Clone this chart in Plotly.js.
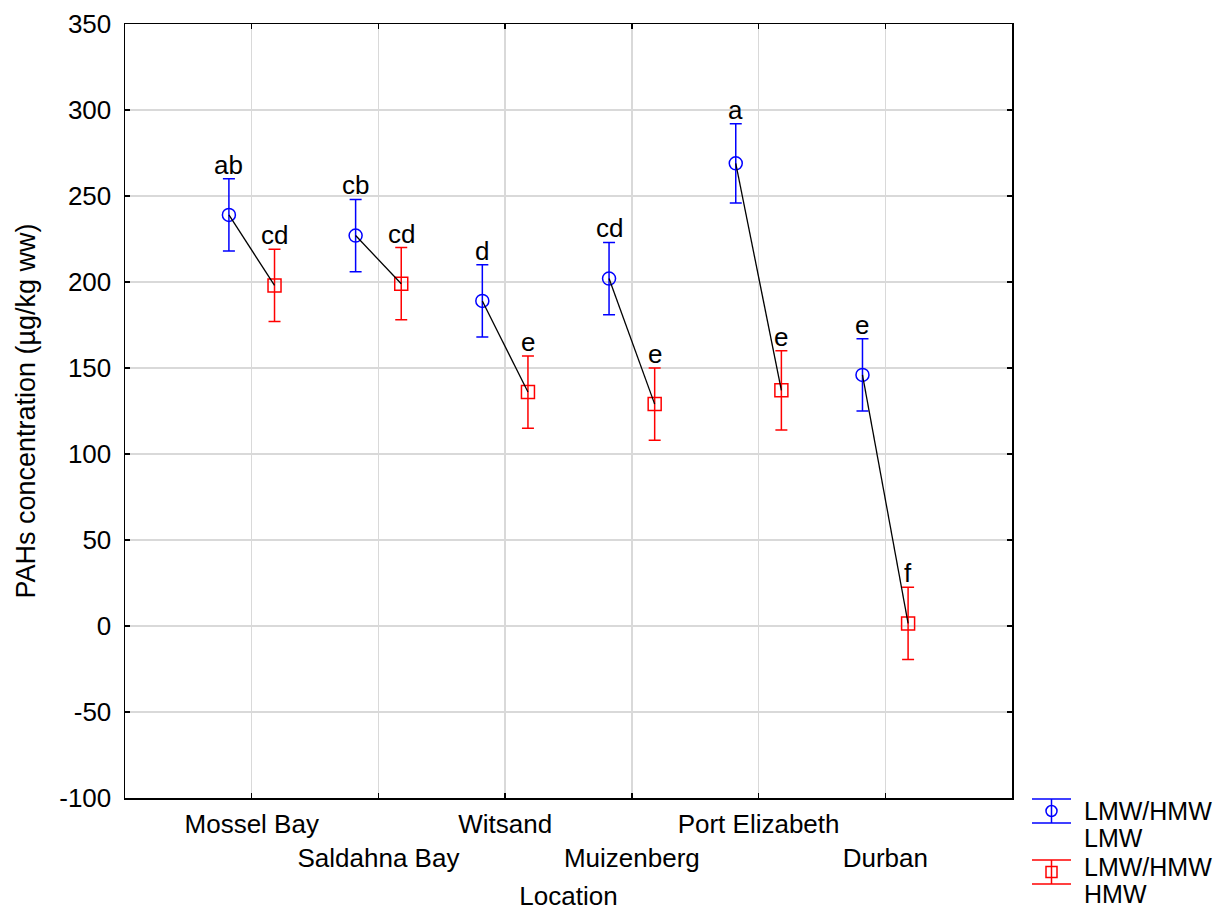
<!DOCTYPE html>
<html>
<head>
<meta charset="utf-8">
<script src="https://cdn.plot.ly/plotly-3.0.1.min.js"></script>
<style>html,body{margin:0;padding:0;background:#fff;}#chart{width:1221px;height:912px;}</style>
</head>
<body>
<div id="chart"></div>
<script>
const locations = ["Mossel Bay", "Saldahna Bay", "Witsand", "Muizenberg", "Port Elizabeth", "Durban"];
const lmwMean = [239, 227, 189, 202, 269, 146];
const lmwErr  = [21, 21, 21, 21, 23, 21];
const hmwMean = [198, 199, 136, 129, 137, 1.5];
const hmwErr  = [21, 21, 21, 21, 23, 21];
const lmwLetters = ["ab", "cb", "d", "cd", "a", "e"];
const hmwLetters = ["cd", "cd", "e", "e", "e", "f"];
const seriesNames = [["LMW/HMW", "LMW"], ["LMW/HMW", "HMW"]];
const seriesColors = ["#0000ff", "#ff0000"];
const yTickVals = [-100, -50, 0, 50, 100, 150, 200, 250, 300, 350];
const yTickText = ["-100", "-50", "0", "50", "100", "150", "200", "250", "300", "350"];

const OFF = 0.18;
const FONT = "Liberation Sans, Arial, sans-serif";
const FS = 26;
const idx = locations.map((_, i) => i);
const xL = idx.map(i => i - OFF);
const xH = idx.map(i => i + OFF);
const tickText = locations.map((l, i) => i % 2 === 0 ? l : " <br>" + l);

// plot-area geometry (pixels) used to place the hand-drawn legend
const M = {l: 125, r: 209, t: 24, b: 114};
const PW = 1221 - M.l - M.r, PH = 912 - M.t - M.b;
const px = v => (v - M.l) / PW;
const py = v => (912 - M.b - v) / PH;

const traces = [
  {
    x: xL, y: lmwMean, type: "scatter", mode: "markers",
    name: seriesNames[0].join("<br>"), showlegend: false,
    marker: {symbol: "circle-open", size: 13, color: seriesColors[0], line: {width: 1.5, color: seriesColors[0]}},
    error_y: {type: "data", array: lmwErr, visible: true, color: seriesColors[0], thickness: 1.5, width: 6}
  },
  {
    x: xH, y: hmwMean, type: "scatter", mode: "markers",
    name: seriesNames[1].join("<br>"), showlegend: false,
    marker: {symbol: "square-open", size: 13, color: seriesColors[1], line: {width: 1.5, color: seriesColors[1]}},
    error_y: {type: "data", array: hmwErr, visible: true, color: seriesColors[1], thickness: 1.5, width: 6}
  }
];
idx.forEach(i => {
  traces.push({
    x: [xL[i], xH[i]], y: [lmwMean[i], hmwMean[i]], type: "scatter", mode: "lines",
    line: {color: "#000000", width: 1.3}, showlegend: false, hoverinfo: "skip"
  });
});

const annotations = [];
idx.forEach(i => {
  annotations.push({x: xL[i], y: lmwMean[i] + lmwErr[i], text: lmwLetters[i], showarrow: false,
    xref: "x", yref: "y", yanchor: "bottom", yshift: -3, font: {family: FONT, size: FS, color: "#000"}});
  annotations.push({x: xH[i], y: hmwMean[i] + hmwErr[i], text: hmwLetters[i], showarrow: false,
    xref: "x", yref: "y", yanchor: "bottom", yshift: -3, font: {family: FONT, size: FS, color: "#000"}});
});

// legend (error-bar style icons + two-line labels)
const shapes = [];
const legendTop = [799, 860];
const lineY = [[811, 838], [867, 894]];
seriesNames.forEach((nm, k) => {
  const c = seriesColors[k];
  const t = legendTop[k], b = t + 24, cy = (t + b) / 2;
  const sty = {color: c, width: 1.5};
  shapes.push({type: "line", xref: "paper", yref: "paper", x0: px(1032), x1: px(1071), y0: py(t), y1: py(t), line: sty});
  shapes.push({type: "line", xref: "paper", yref: "paper", x0: px(1032), x1: px(1071), y0: py(b), y1: py(b), line: sty});
  shapes.push({type: "line", xref: "paper", yref: "paper", x0: px(1051.5), x1: px(1051.5), y0: py(t), y1: py(b), line: sty});
  shapes.push({type: k === 0 ? "circle" : "rect", xref: "paper", yref: "paper",
    x0: px(1046), x1: px(1057), y0: py(cy - 5.5), y1: py(cy + 5.5), line: sty, fillcolor: "rgba(0,0,0,0)"});
  nm.forEach((txt, j) => {
    annotations.push({xref: "paper", yref: "paper", x: px(1083), y: py(lineY[k][j]), xanchor: "left", yanchor: "middle",
      text: txt, showarrow: false, borderpad: 0, font: {family: FONT, size: 25, color: "#000"}});
  });
});

const layout = {
  width: 1221, height: 912,
  margin: M,
  paper_bgcolor: "#ffffff", plot_bgcolor: "#ffffff",
  font: {family: FONT, size: FS, color: "#000"},
  showlegend: false,
  xaxis: {
    range: [-1, 6], tickmode: "array", tickvals: idx, ticktext: tickText, tickangle: 0, automargin: false,
    ticklabelstandoff: 2,
    showgrid: true, gridcolor: "#d9d9d9", gridwidth: 1.5, zeroline: false,
    showline: true, linecolor: "#000", linewidth: 1.5, mirror: "ticks",
    ticks: "inside", ticklen: 5, tickcolor: "#000", tickwidth: 1.5,
    tickfont: {family: FONT, size: FS, color: "#000"},
    title: {text: "Location", font: {family: FONT, size: FS, color: "#000"}, standoff: 15}
  },
  yaxis: {
    range: [-100, 350], tickmode: "array", tickvals: yTickVals, ticktext: yTickText, automargin: false,
    ticklabelstandoff: 7,
    showgrid: true, gridcolor: "#d9d9d9", gridwidth: 1.5, zeroline: false,
    showline: true, linecolor: "#000", linewidth: 1.5, mirror: "ticks",
    ticks: "inside", ticklen: 5, tickcolor: "#000", tickwidth: 1.5,
    tickfont: {family: FONT, size: FS, color: "#000"},
    title: {text: "PAHs concentration (µg/kg ww)", font: {family: FONT, size: 27, color: "#000"}, standoff: 16}
  },
  annotations: annotations,
  shapes: shapes
};

Plotly.newPlot("chart", traces, layout, {displayModeBar: false, staticPlot: true});
</script>
</body>
</html>
